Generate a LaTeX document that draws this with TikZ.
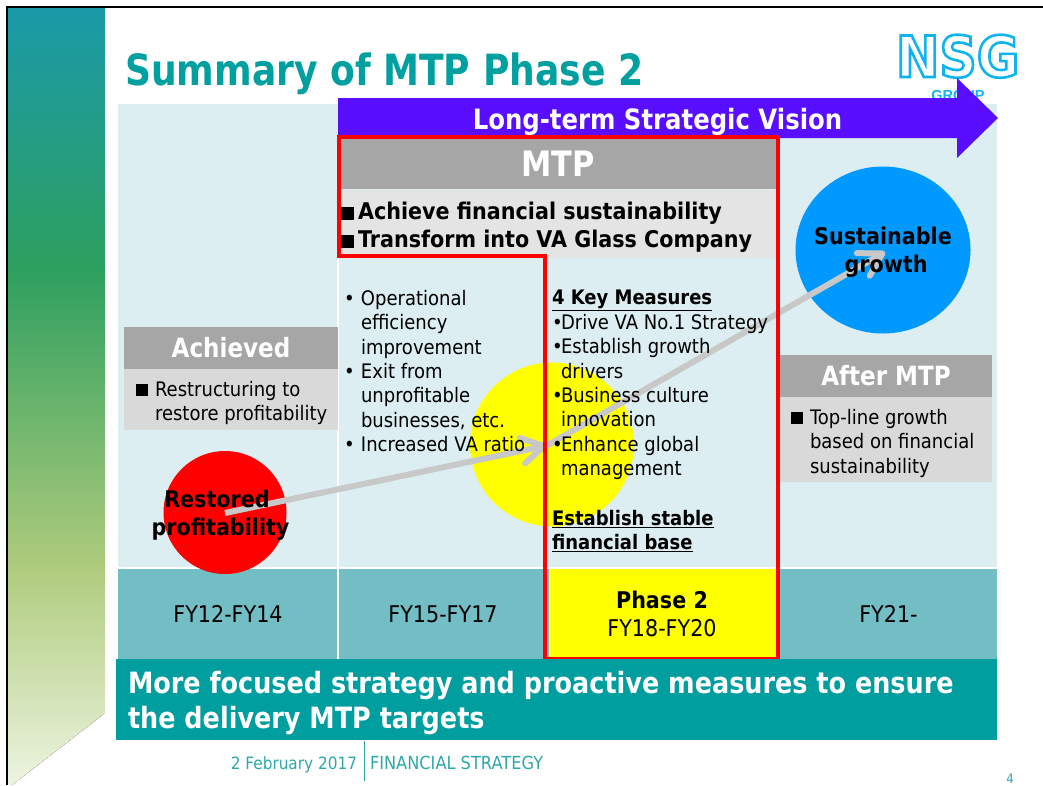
\documentclass[tikz,border=0pt]{standalone}
\usepackage{fontspec}
\setmainfont{DejaVu Sans}[FakeStretch=0.9]
\newfontfamily\logofont{DejaVu Sans Bold}[FakeStretch=0.91]
\newfontfamily\groupfont{Liberation Sans}
\newfontfamily\titlefont{DejaVu Sans Bold}[FakeStretch=0.84]
\newfontfamily\headfont{DejaVu Sans Bold}[FakeStretch=0.87]
\usetikzlibrary{arrows.meta}
\definecolor{teal}{HTML}{00A0A0}
\definecolor{panel}{HTML}{DCEEF1}
\definecolor{rowc}{HTML}{72BEC4}
\definecolor{violetc}{HTML}{5A0EFF}
\definecolor{headg}{HTML}{A6A6A6}
\definecolor{lightg}{HTML}{E4E4E4}
\definecolor{sideg}{HTML}{D9D9D9}
\definecolor{arrowg}{HTML}{C8C8C8}
\definecolor{redc}{HTML}{FF0000}
\definecolor{bluec}{HTML}{0099FF}
\definecolor{yellowc}{HTML}{FFFF00}
\definecolor{bannerc}{HTML}{009E9F}
\definecolor{footc}{HTML}{2FA8AA}
\definecolor{logoc}{HTML}{10B4EE}
\definecolor{c1}{HTML}{1A9AA8}
\definecolor{c2}{HTML}{2EA05F}
\definecolor{c3}{HTML}{AECB7C}
\definecolor{c4}{HTML}{EDF4E0}
\newcommand{\fs}[1]{\fontsize{#1}{#1}\selectfont}
\newcommand{\blt}{\llap{\makebox[17pt][l]{\textbullet}}}
\newcommand{\bltb}{\llap{\makebox[9pt][l]{\textbullet}}}
\newcommand{\sqb}[2]{\llap{\makebox[#1pt][l]{\rule{#2pt}{#2pt}}}}
\tikzset{
  x=1pt,y=-1pt,
  txt/.style={inner sep=0pt,outer sep=0pt,text=black},
  box/.style={draw=none,inner sep=0pt,outer sep=0pt,anchor=north west},
  head/.style={box,fill=headg,text=white,font=\headfont\fs{26.5}},
  listtxt/.style={txt,anchor=north west,align=left,font=\fs{20}},
  fytxt/.style={txt,font=\fs{23}},
  circtxt/.style={txt,align=center,font=\fs{23}\bfseries},
  flow/.style={draw=arrowg,line width=6pt,-{Straight Barb[length=22pt,width=26pt,line width=6pt,round]}},
}
\begin{document}
\begin{tikzpicture}
\useasboundingbox (0,0) rectangle (1043,785);
\fill[white] (0,0) rectangle (1043,785);
% slide edge
\fill[black] (5.5,5.5) rectangle (1043,7.7);
\fill[black] (5.5,5.5) rectangle (7.7,785);
% left band
\begin{scope}
\clip (8,8) -- (105,8) -- (105,713) -- (12,785) -- (8,785) -- cycle;
\fill[top color=c1,bottom color=c2] (8,8) rectangle (105,270);
\fill[top color=c2,bottom color=c3] (8,270) rectangle (105,565);
\fill[top color=c3,bottom color=c4] (8,565) rectangle (105,785);
\end{scope}
% title
\node[txt,anchor=base west,text=teal,font=\titlefont\fs{43}] (title) at (125,85) {Summary of MTP Phase 2};
% logo
\node[txt,anchor=base west,font=\logofont\fs{57}] (logo) at (896,77) {\special{pdf:code q 1 Tr 2.6 w 0.06 0.706 0.933 RG}NSG\special{pdf:code Q}};
\node[txt,anchor=base,text=logoc,font=\groupfont\fs{14.5}\bfseries] (grp) at (958,100) {GROUP};
% panel
\fill[panel] (118,104) rectangle (997,567);
\fill[rowc] (118,569) rectangle (997,659);
\draw[white,line width=1.5pt] (338,256) -- (338,659);
\fill[yellowc] (549,569) rectangle (776,657);
% circles
\fill[yellowc] (552,444.5) circle[radius=82];
\fill[redc] (225,512.5) circle[radius=61.5];
\fill[bluec] (883,250) ellipse[x radius=87.5,y radius=83.5];
% vision arrow
\fill[violetc] (338,98) -- (957,98) -- (957,78) -- (998,118) -- (957,158) -- (957,138) -- (338,138) -- cycle;
\node[txt,text=white,font=\headfont\fs{28}] (visiontxt) at (657.5,122) {Long-term Strategic Vision};
% MTP header
\node[head,minimum width=436pt,minimum height=51pt] (mtp) at (340,138) {\fs{35}MTP};
\node[box,fill=lightg,minimum width=436pt,minimum height=68pt] (mtpbody) at (340,190) {};
\node[txt,anchor=north west,align=left,font=\fs{23}\bfseries] (goals) at (358,202.5) {\sqb{17}{13}Achieve financial sustainability\\[5pt]\sqb{17}{13}Transform into VA Glass Company};
% achieved
\node[head,minimum width=214pt,minimum height=42pt] (ach) at (124,327) {\raisebox{-1pt}{Achieved}};
\node[box,fill=sideg,minimum width=214pt,minimum height=61pt] (achbody) at (124,369) {};
\node[listtxt] (achtxt) at (155,381) {\sqb{19}{12}Restructuring to\\[4.4pt]restore profitability};
% after
\node[head,minimum width=212pt,minimum height=42pt] (aft) at (780,355) {\raisebox{-1pt}{After MTP}};
\node[box,fill=sideg,minimum width=212pt,minimum height=85pt] (aftbody) at (780,397) {};
\node[listtxt] (afttxt) at (810,409) {\sqb{19.5}{12}Top-line growth\\[4.4pt]based on financial\\[4.4pt]sustainability};
% arrows
\coordinate (a0) at (225,513);
\coordinate (a1) at (547,445.5);
\coordinate (a2) at (885,252);
\draw[flow] (a1) -- (a2);
\draw[flow] (a0) -- (a1);
% red frame
\draw[redc,line width=4pt,line join=miter] (338.5,136.5) -- (778,136.5) -- (778,659) -- (545,659) -- (545,255.5) -- (338.5,255.5) -- cycle;
% lists
\node[listtxt] (l1) at (361,290) {\blt Operational\\[4.4pt]efficiency\\[4.4pt]improvement\\[4.4pt]\blt Exit from\\[4.4pt]unprofitable\\[4.4pt]businesses, etc.\\[4.4pt]\blt Increased VA ratio};
\node[listtxt] (l2) at (552,290) {\textbf{\underline{4 Key Measures}}};
\node[listtxt] (l3) at (561,314) {\bltb Drive VA No.1 Strategy\\[4.4pt]\bltb Establish growth\\[4.4pt]drivers\\[4.4pt]\bltb Business culture\\[4.4pt]innovation\\[4.4pt]\bltb Enhance global\\[4.4pt]management};
\node[listtxt] (l4) at (552,510) {\textbf{\underline{Establish stable}}\\[4.4pt]\textbf{\underline{financial base}}};
% circle labels
\node[circtxt] (c1) at (220.5,515) {Restored\rule{7pt}{0pt}\\[5pt]profitability};
\node[circtxt] (c3) at (883,252) {Sustainable\\[5pt]\rule{6pt}{0pt}growth};
% FY
\node[fytxt] (fy1) at (228,614) {FY12-FY14};
\node[fytxt] (fy2) at (443,614) {FY15-FY17};
\node[fytxt,font=\fs{23}\bfseries] (ph) at (662,600) {Phase 2};
\node[fytxt] (fy3) at (662,628) {FY18-FY20};
\node[fytxt] (fy4) at (888.5,614) {FY21-};
% banner
\node[box,fill=bannerc,minimum width=881pt,minimum height=81pt] (ban) at (116,659) {};
\node[txt,anchor=north west,align=left,text=white,font=\headfont\fs{29.3}] (bantxt) at (128,671) {More focused strategy and proactive measures to ensure\\[5.7pt]the delivery MTP targets};
% footer
\node[txt,anchor=base east,text=footc,font=\fs{17}] (date) at (357,769) {2 February 2017};
\node[txt,anchor=base west,text=footc,font=\fs{18}] (fin) at (370,769) {FINANCIAL STRATEGY};
\coordinate (v0) at (364,741);
\coordinate (v1) at (364,781);
\draw[footc,line width=1pt] (v0) -- (v1);
\node[txt,anchor=base,text=footc,font=\fs{13}] (pg) at (1010,783) {4};
\end{tikzpicture}
\end{document}
